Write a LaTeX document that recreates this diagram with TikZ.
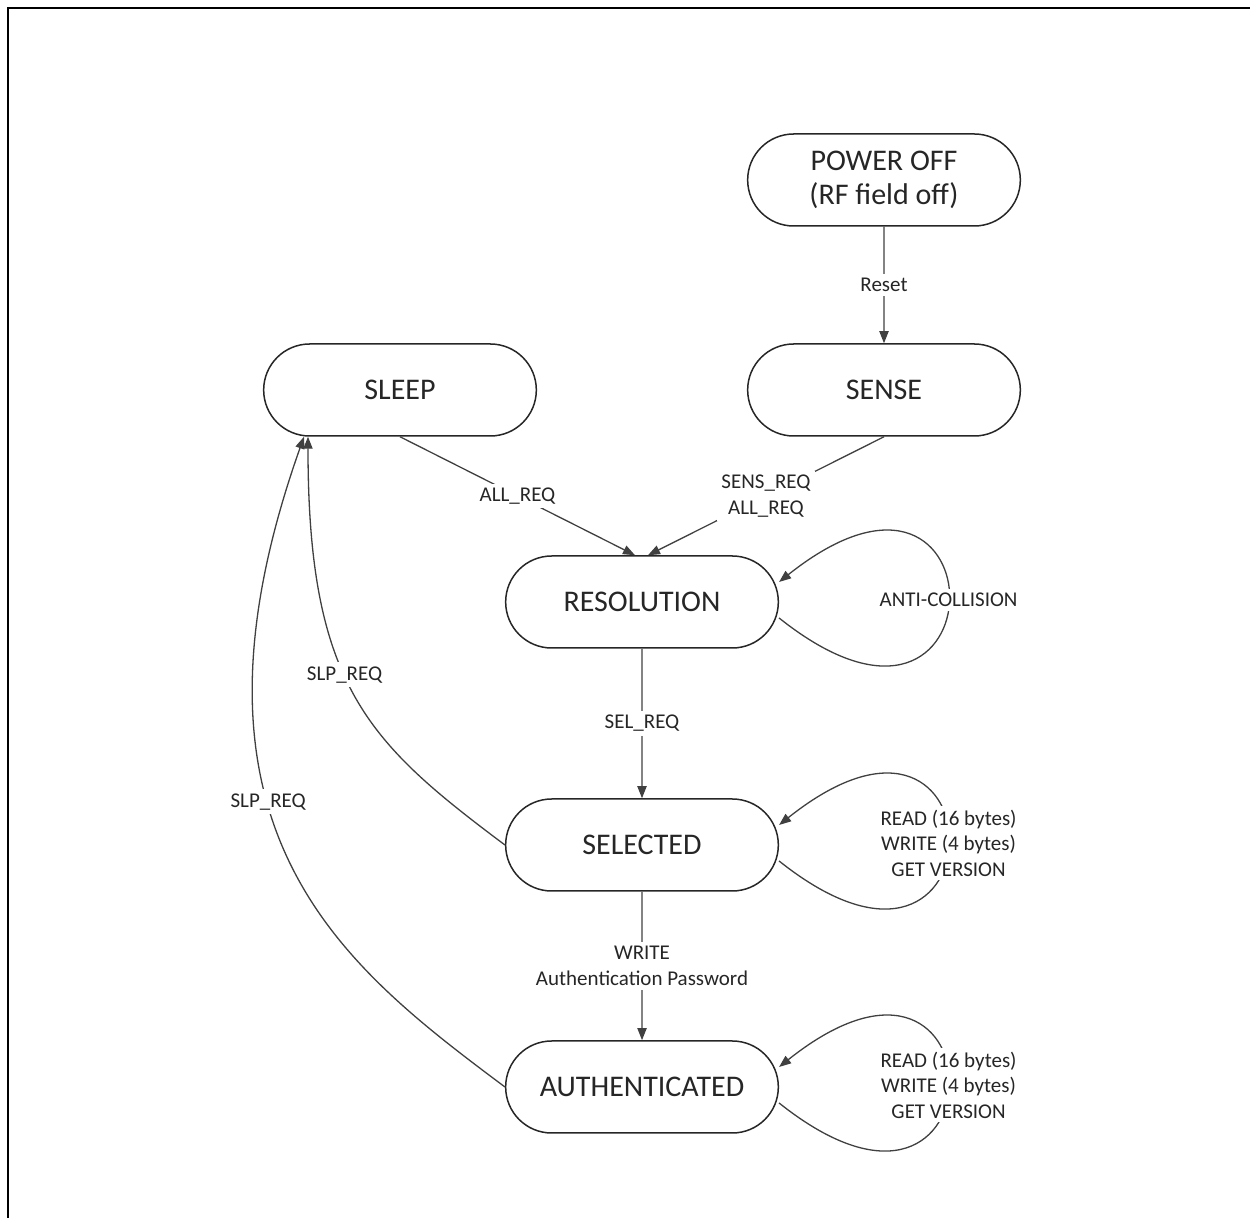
\documentclass[tikz,border=0pt]{standalone}
\usepackage{fontspec}
\setmainfont{Carlito}
\usepackage{tikz}
\usetikzlibrary{shapes.misc}
\usetikzlibrary{arrows.meta}
\tikzset{box/.style={draw=black!85, line width=0.75pt, rounded rectangle, minimum width=143pt, minimum height=46pt, text=black!85, align=center, font=\fontsize{15}{17}\selectfont}}
\tikzset{l/.style={font=\fontsize{10.5}{12.8}\selectfont, fill=white, inner sep=2pt, text=black!85, align=center}}
\tikzset{tr/.style={draw=black!75, line width=0.65pt, -{Triangle[length=6pt,width=4.6pt]}}}

\begin{document}
\begin{tikzpicture}[x=0.5pt,y=-0.5pt]
  \useasboundingbox (0,0) rectangle (1250,1218);
  \draw [line width=1.4pt] (8,1218) -- (8,8) -- (1250,8);
  \node [box] (off) at (884,180) {POWER OFF\\(RF field off)};
  \node [box] (sense) at (884,390) {SENSE};
  \node [box] (sleep) at (400,390) {SLEEP};
  \node [box] (res) at (642,602) {RESOLUTION};
  \node [box] (sel) at (642,845) {SELECTED};
  \node [box] (auth) at (642,1087) {AUTHENTICATED};
  \draw [tr] (off) -- node [l] {Reset} (sense);
  \draw [tr] (sense.south) -- node [l] {SENS\_REQ\\ALL\_REQ} ([xshift=3pt]res.north);
  \draw [tr] (sleep.south) -- node [l] {ALL\_REQ} ([xshift=-3.5pt]res.north);
  \draw [tr] (res) -- node [l] {SEL\_REQ} (sel);
  \draw [tr] (sel) -- node [l] {WRITE\\Authentication Password} (auth);
  \draw [tr] ([yshift=-8pt]res.east) .. controls +(226,180) and +(226,-180) .. node [l] {ANTI-COLLISION} ([yshift=10pt]res.east);
  \draw [tr] ([yshift=-8pt]sel.east) .. controls +(226,180) and +(226,-180) .. node [l] {READ (16 bytes)\\WRITE (4 bytes)\\GET VERSION} ([yshift=10pt]sel.east);
  \draw [tr] ([yshift=-8pt]auth.east) .. controls +(226,180) and +(226,-180) .. node [l] {READ (16 bytes)\\WRITE (4 bytes)\\GET VERSION} ([yshift=10pt]auth.east);
  \draw [tr] (sel.west) .. controls +(-136,-102) and +(0,250) .. node [l, pos=0.56] {SLP\_REQ} ([xshift=-46pt]sleep.south);
  \draw [tr] (auth.west) .. controls +(-160,-120) and +(-140,395) .. node [l, pos=0.6] {SLP\_REQ} ([xshift=-48pt]sleep.south);
\end{tikzpicture}
\end{document}
